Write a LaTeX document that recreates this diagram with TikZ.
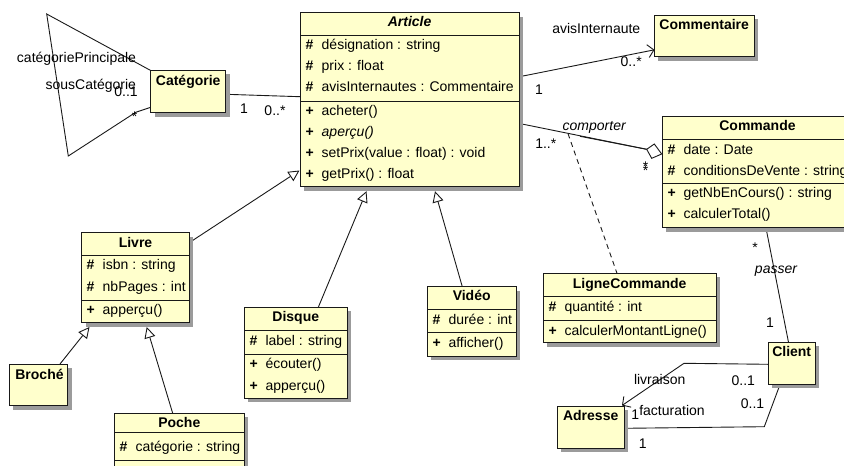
\documentclass[tikz,border=0pt]{standalone}
\usepackage{fontspec}
\setmainfont{Liberation Sans}
\usetikzlibrary{arrows.meta}

\definecolor{classfill}{RGB}{255,255,204}
\definecolor{shadowgray}{RGB}{155,155,155}
\definecolor{ink}{RGB}{25,25,25}

% class box: name, x1, y1, x2, y2 (y grows downwards)
\newcommand\umlclass[5]{%
  \fill[shadowgray] ({#2+4},{#3+4}) rectangle ({#4+4},{#5+4});
  \node[classbox, minimum width={#4-#2}, minimum height={#5-#3}] (#1) at (#2,#3) {};
}
% compartment separator: x1, x2, y
\newcommand\umlsep[3]{\draw[divider] (#1,#3) -- (#2,#3);}
% member line: name, x, baseline, visibility, text
\newcommand\umlrow[5]{\node[row] (#1) at (#2,#3) {\makebox[16pt][l]{\bfseries #4}#5};}

\begin{document}
\begin{tikzpicture}[x=1pt,y=-1pt,
  font=\fontsize{14}{16}\selectfont,
  classbox/.style={draw=ink, fill=classfill, line width=1pt, inner sep=0pt, outer sep=0pt, anchor=north west},
  divider/.style={draw=ink, line width=1pt},
  title/.style={font=\fontsize{14}{16}\selectfont\bfseries, anchor=base, inner sep=0pt},
  row/.style={anchor=base west, inner sep=0pt},
  lbl/.style={anchor=base, inner sep=0pt},
  assoc/.style={draw=ink, line width=0.9pt},
  gen/.style={assoc, -{Triangle[open, length=11pt, width=11pt, fill=white]}},
  nav/.style={assoc, -{Straight Barb[length=6pt, width=13pt]}},
]
\useasboundingbox (0,0) rectangle (844,466);
\clip (0,0) rectangle (844,466);

% ---------- connectors (drawn first, boxes cover their ends) ----------
\coordinate (catR) at (226,94.3);
\coordinate (artL) at (300,96.7);
\draw[assoc] (catR) -- (artL);

\coordinate (self1) at (150.7,70.5);
\coordinate (self2) at (46.7,14);
\coordinate (self3) at (68.3,156);
\coordinate (self4) at (135.7,112.3);
\coordinate (self5) at (150.7,107.3);
\draw[assoc] (self1) -- (self2) -- (self3) -- (self4) -- (self5);

\coordinate (artCom) at (519.5,76.7);
\coordinate (comL) at (654.5,49.8);
\draw[nav] (artCom) -- (comL);

\coordinate (artCmd) at (519.5,123.5);
\coordinate (dmL) at (646.7,149.3);
\coordinate (lcJoin) at (568,133.6);
\coordinate (lcTwin) at (580,136.3);
\draw[assoc] (artCmd) -- (dmL);
\draw[assoc] (lcTwin) -- (dmL);
\draw[assoc, fill=white] (dmL) -- (654.3,144) -- (661.7,154) -- (651.7,158.3) -- cycle;

\coordinate (lcTop) at (617,273.3);
\draw[assoc, dash pattern=on 5pt off 4pt] (lcJoin) -- (lcTop);

\coordinate (cmdB) at (766,228);
\coordinate (cliT) at (788.5,342.3);
\draw[assoc] (cmdB) -- (cliT);

\coordinate (cliL) at (768,364.3);
\coordinate (livBend) at (684,363.3);
\coordinate (adrTR) at (622,405.5);
\draw[nav] (cliL) -- (livBend) -- (adrTR);

\coordinate (cliB) at (780,384.5);
\coordinate (facBend) at (764.3,426.7);
\coordinate (adrR) at (624,428.3);
\draw[assoc] (cliB) -- (facBend) -- (adrR);

\coordinate (livTR) at (189.5,242.5);
\coordinate (genArt1) at (299.5,170.5);
\draw[gen] (livTR) -- (genArt1);
\coordinate (disT) at (318.3,307.3);
\coordinate (genArt2) at (366.5,191.2);
\draw[gen] (disT) -- (genArt2);
\coordinate (vidT) at (462.3,286.7);
\coordinate (genArt3) at (435,191.2);
\draw[gen] (vidT) -- (genArt3);
\coordinate (broT) at (60,364);
\coordinate (genLiv1) at (89.5,327);
\draw[gen] (broT) -- (genLiv1);
\coordinate (pocT) at (172.7,413.3);
\coordinate (genLiv2) at (146.7,327);
\draw[gen] (pocT) -- (genLiv2);

% ---------- Article ----------
\umlclass{article}{300}{12.7}{519.3}{186.7}
\node[title, font=\fontsize{14}{16}\selectfont\bfseries\itshape] (articleT) at (409.6,26.7) {Article};
\umlsep{300}{519.3}{35.7}
\umlsep{300}{519.3}{101}
\umlrow{art1}{305.5}{49.3}{\#}{désignation : string}
\umlrow{art2}{305.5}{70.7}{\#}{prix : float}
\umlrow{art3}{305.5}{91.7}{\#}{avisInternautes : Commentaire}
\umlrow{art4}{305.5}{115}{+}{acheter()}
\umlrow{art5}{305.5}{136.7}{+}{\itshape aperçu()}
\umlrow{art6}{305.5}{157.3}{+}{setPrix(value : float) : void}
\umlrow{art7}{305.5}{178.3}{+}{getPrix() : float}

% ---------- Commentaire ----------
\umlclass{commentaire}{654}{15}{754.3}{56.7}
\node[title] (commentaireT) at (704.2,29) {Commentaire};

% ---------- Catégorie ----------
\umlclass{categorie}{150.7}{70}{225.7}{112.7}
\node[title] (categorieT) at (188.2,85.7) {Catégorie};

% ---------- Commande ----------
\umlclass{commande}{662.3}{116.7}{852.7}{227.7}
\node[title] (commandeT) at (757.5,130.7) {Commande};
\umlsep{662.3}{852.7}{139}
\umlsep{662.3}{852.7}{183.3}
\umlrow{cmd1}{667.3}{154.3}{\#}{date : Date}
\umlrow{cmd2}{667.3}{175}{\#}{conditionsDeVente : string}
\umlrow{cmd3}{667.3}{197.7}{+}{getNbEnCours() : string}
\umlrow{cmd4}{667.3}{218.3}{+}{calculerTotal()}

% ---------- Livre ----------
\umlclass{livre}{81.7}{232.7}{189.3}{322.7}
\node[title] (livreT) at (135.5,247.7) {Livre};
\umlsep{81.7}{189.3}{255}
\umlsep{81.7}{189.3}{300}
\umlrow{liv1}{86.5}{269.3}{\#}{isbn : string}
\umlrow{liv2}{86.5}{291}{\#}{nbPages : int}
\umlrow{liv3}{86.5}{314.3}{+}{apperçu()}

% ---------- Broché ----------
\umlclass{broche}{9.3}{364}{67.7}{405.7}
\node[title] (brocheT) at (39.5,379) {Broché};

% ---------- Poche ----------
\umlclass{poche}{114.3}{413.3}{244.3}{490}
\node[title] (pocheT) at (179.3,427.7) {Poche};
\umlsep{114.3}{244.3}{432.3}
\umlsep{114.3}{244.3}{460}
\umlrow{poc1}{119.3}{451.7}{\#}{catégorie : string}

% ---------- Disque ----------
\umlclass{disque}{244.3}{307.3}{347.3}{398.3}
\node[title] (disqueT) at (295.8,321) {Disque};
\umlsep{244.3}{347.3}{330.7}
\umlsep{244.3}{347.3}{354}
\umlrow{dis1}{249.3}{345}{\#}{label : string}
\umlrow{dis2}{249.3}{368.3}{+}{écouter()}
\umlrow{dis3}{249.3}{390}{+}{apperçu()}

% ---------- Vidéo ----------
\umlclass{video}{427.3}{286.7}{516}{356}
\node[title] (videoT) at (471.7,300.7) {Vidéo};
\umlsep{427.3}{516}{309.3}
\umlsep{427.3}{516}{332.7}
\umlrow{vid1}{432.3}{324.3}{\#}{durée : int}
\umlrow{vid2}{432.3}{347.3}{+}{afficher()}

% ---------- LigneCommande ----------
\umlclass{ligne}{543.3}{273.3}{716}{342.7}
\node[title] (ligneT) at (629.7,288.3) {LigneCommande};
\umlsep{543.3}{716}{296.7}
\umlsep{543.3}{716}{320}
\umlrow{lig1}{548.3}{311}{\#}{quantité : int}
\umlrow{lig2}{548.3}{335}{+}{calculerMontantLigne()}

% ---------- Client ----------
\umlclass{client}{768}{342.3}{815.3}{384}
\node[title] (clientT) at (791.7,356) {Client};

% ---------- Adresse ----------
\umlclass{adresse}{557.3}{406}{624}{448.3}
\node[title] (adresseT) at (590.7,420.7) {Adresse};

% ---------- association labels ----------
\node[lbl] (lPrinc) at (76.5,62.7) {catégoriePrincipale};
\node[lbl] (lSous) at (90.8,89.3) {sousCatégorie};
\node[lbl] (lSousM) at (126,96.7) {0..1};
\node[lbl] (lPrincM) at (134.5,121) {*};
\node[lbl] (lCat1) at (244,113.3) {1};
\node[lbl] (lCatN) at (275,115) {0..*};

\node[lbl] (lAvis) at (596.3,33.3) {avisInternaute};
\node[lbl] (lAvisM) at (631.2,66.7) {0..*};
\node[lbl] (lAvis1) at (539,94.3) {1};

\node[lbl, font=\fontsize{14}{16}\selectfont\itshape] (lComp) at (594.2,130) {comporter};
\node[lbl] (lCompN) at (545.8,148.3) {1..*};
\node[lbl] (lCompS1) at (645.5,171) {*};
\node[lbl] (lCompS2) at (645.5,175) {*};

\node[lbl] (lPassS) at (755,252) {*};
\node[lbl, font=\fontsize{14}{16}\selectfont\itshape] (lPass) at (776,273.3) {passer};
\node[lbl] (lPass1) at (770,327.7) {1};

\node[lbl] (lLiv) at (659.7,384) {livraison};
\node[lbl] (lLivM) at (743.3,385) {0..1};
\node[lbl] (lLiv1) at (635.3,419) {1};
\node[lbl] (lFac) at (672,415.7) {facturation};
\node[lbl] (lFacM) at (752.5,408.3) {0..1};
\node[lbl] (lFac1) at (642.7,448.3) {1};
\end{tikzpicture}
\end{document}
